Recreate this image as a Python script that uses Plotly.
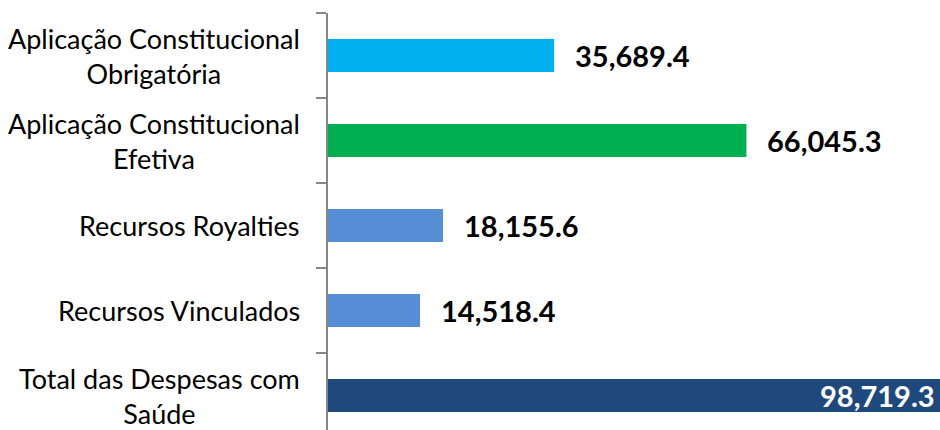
import plotly.graph_objects as go

categories = [
    "Aplicação Constitucional<br>Obrigatória",
    "Aplicação Constitucional<br>Efetiva",
    "Recursos Royalties",
    "Recursos Vinculados",
    "Total das Despesas com<br>Saúde",
]
values = [35689.4, 66045.3, 18155.6, 14518.4, 98719.3]
colors = ["#00B0F0", "#00B050", "#558ED5", "#558ED5", "#1F497D"]

idx = list(range(len(categories)))

fig = go.Figure()
fig.add_trace(go.Bar(
    x=values, y=idx, orientation="h",
    marker=dict(color=colors, line=dict(width=0)),
    width=0.39, hoverinfo="skip",
))

annotations = []
FONT = "Lato"
for i, (c, v) in enumerate(zip(categories, values)):
    annotations.append(dict(
        x=0, xref="paper", y=i, yref="y", text=c, showarrow=False,
        xanchor="right", yanchor="middle", align="center", xshift=-26,
        font=dict(family=FONT, size=27, color="#000000"),
    ))
    label = f"{v:,.1f}"
    if i == len(categories) - 1:
        annotations.append(dict(
            x=1, xref="paper", y=i, yref="y", text=label, showarrow=False,
            xanchor="right", yanchor="middle", xshift=-3,
            font=dict(family=FONT, size=29, color="#FFFFFF", weight="bold"),
        ))
    else:
        annotations.append(dict(
            x=v, xref="x", y=i, yref="y", text=label, showarrow=False,
            xanchor="left", yanchor="middle", xshift=19,
            font=dict(family=FONT, size=29, color="#000000", weight="bold"),
        ))

n = len(categories)
fig.update_layout(
    width=940, height=430,
    margin=dict(l=328, r=0, t=13, b=0),
    paper_bgcolor="white", plot_bgcolor="white",
    showlegend=False,
    annotations=annotations,
    xaxis=dict(range=[0, 96600], visible=False, fixedrange=True),
    yaxis=dict(
        range=[-0.5 + 417 / 85, -0.5],
        tickmode="array",
        tickvals=[k - 0.5 for k in range(n + 1)],
        ticktext=["" for _ in range(n + 1)],
        ticks="outside", ticklen=10, tickwidth=2, tickcolor="#868686",
        showline=True, linecolor="#868686", linewidth=2,
        showgrid=False, zeroline=False, fixedrange=True,
    ),
)

fig.write_html(
    "out.html",
    config={"displayModeBar": False},
    post_script="document.body.style.margin='0';document.body.style.overflow='hidden';",
)
